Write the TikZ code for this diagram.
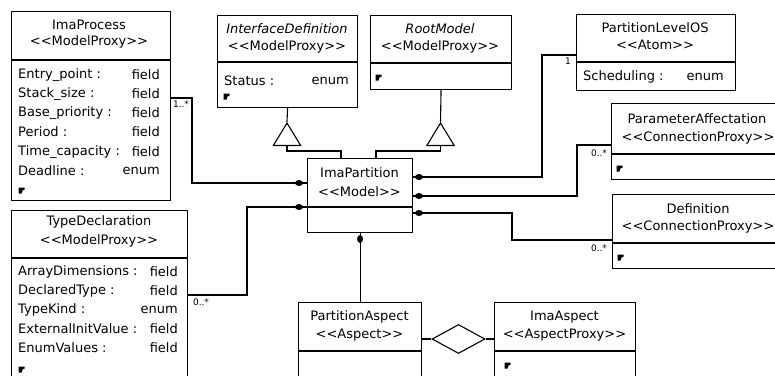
\documentclass[tikz,border=0pt]{standalone}
\usepackage{fontspec}
\setmainfont{DejaVu Sans}
\usetikzlibrary{arrows.meta,shapes.geometric}
\newcommand\umlbox[6]{%
  \node[umlframe, minimum width=#4-#2, minimum height=#5-#3] (#1) at (#2,#3) {};
  \draw[umlline] (#1.west |- 0,#6) -- (#1.east |- 0,#6);}
\newcommand\umlattr[6]{%
  \node[txt, anchor=west] (#1l) at (#2,#4) {#5};
  \node[txt, anchor=east] (#1r) at (#3,#4) {#6};}
\newcommand\umlmark[2]{%
  \fill (#1-2.5,#2-2.5) -- ++(6,0) -- ++(0,2) -- ++(-2,1) -- ++(-1,3) -- ++(-3,0) -- cycle;}
\begin{document}
\begin{tikzpicture}[x=1pt,y=-1pt,
  umlframe/.style={draw, line width=1.1pt, inner sep=0pt, anchor=north west},
  umlline/.style={line width=1.1pt},
  txt/.style={inner sep=0pt, font=\fontsize{13}{15}\selectfont},
  ital/.style={txt, font=\fontsize{13}{15}\selectfont\itshape},
  mult/.style={inner sep=0pt, font=\fontsize{9}{10}\selectfont},
  conn/.style={line width=1.1pt},
  gen/.style={line width=1.1pt, -{Triangle[open, length=24pt, width=29pt, line width=1.1pt]}}]
\useasboundingbox (0,0) rectangle (775,375);
\fill[white] (0,0) rectangle (775,375);
\clip (0,0) rectangle (775,375);

% ImaProcess
\umlbox{ip}{11}{11}{170}{200}{60}
\node[txt] (ipT) at (89,25) {ImaProcess};
\node[txt] (ipS) at (89,42) {<{}<ModelProxy>{}>};
\umlattr{ipa}{18}{160}{75}{Entry\_point :}{field}
\umlattr{ipb}{18}{160}{94}{Stack\_size :}{field}
\umlattr{ipc}{18}{160}{113}{Base\_priority :}{field}
\umlattr{ipd}{18}{160}{132}{Period :}{field}
\umlattr{ipe}{18}{160}{152}{Time\_capacity :}{field}
\umlattr{ipf}{18}{160}{171}{Deadline :}{enum}
\umlmark{21}{190}

% TypeDeclaration
\umlbox{td}{11}{210}{187}{400}{258}
\node[txt] (tdT) at (99,222) {TypeDeclaration};
\node[txt] (tdS) at (99,241) {<{}<ModelProxy>{}>};
\umlattr{tda}{18}{178}{272}{ArrayDimensions :}{field}
\umlattr{tdb}{18}{178}{291}{DeclaredType :}{field}
\umlattr{tdc}{18}{178}{310}{TypeKind :}{enum}
\umlattr{tdd}{18}{178}{329}{ExternalInitValue :}{field}
\umlattr{tde}{18}{178}{348}{EnumValues :}{field}
\umlmark{21}{369}

% InterfaceDefinition
\umlbox{ifd}{217}{15}{357}{107}{62}
\node[ital] (ifdT) at (287,29) {InterfaceDefinition};
\node[txt] (ifdS) at (287,47) {<{}<ModelProxy>{}>};
\umlattr{ifda}{224}{349}{81}{Status :}{enum}
\umlmark{226}{96}

% RootModel
\umlbox{rm}{370}{15}{511}{89}{63}
\node[ital] (rmT) at (440,29) {RootModel};
\node[txt] (rmS) at (440,47) {<{}<ModelProxy>{}>};
\umlmark{378}{77}

% PartitionLevelOS
\umlbox{plo}{576}{14}{735}{90}{62}
\node[txt] (ploT) at (655,28) {PartitionLevelOS};
\node[txt] (ploS) at (655,45) {<{}<Atom>{}>};
\umlattr{ploa}{583}{724}{77}{Scheduling :}{enum}

% ParameterAffectation
\umlbox{paff}{611}{103}{800}{179}{154}
\node[txt] (paffT) at (697,119) {ParameterAffectation};
\node[txt] (paffS) at (698,138) {<{}<ConnectionProxy>{}>};
\umlmark{619}{168}

% Definition
\umlbox{def}{612}{194}{800}{268}{243}
\node[txt] (defT) at (698,209) {Definition};
\node[txt] (defS) at (698,227) {<{}<ConnectionProxy>{}>};
\umlmark{620}{257}

% ImaPartition
\umlbox{part}{307}{158}{412}{232}{207}
\node[txt] (partT) at (359.5,173) {ImaPartition};
\node[txt] (partS) at (359.5,192) {<{}<Model>{}>};

% PartitionAspect
\umlbox{pasp}{298}{302}{421}{400}{351}
\node[txt] (paspT) at (359.5,317) {PartitionAspect};
\node[txt] (paspS) at (359.5,335) {<{}<Aspect>{}>};

% ImaAspect
\umlbox{ia}{494}{302}{635}{400}{351}
\node[txt] (iaT) at (564.5,317) {ImaAspect};
\node[txt] (iaS) at (564.5,335) {<{}<AspectProxy>{}>};
\umlmark{507}{365}

% diamond
\node[diamond, draw, line width=1.1pt, inner sep=0pt, minimum width=53pt, minimum height=29pt] (dia) at (458.5,339) {};
\draw[conn] (pasp.east |- dia.west) -- (dia.west);
\draw[conn] (dia.east) -- (ia.west |- dia.east);

% generalizations
\coordinate (apexA) at (287,122);
\coordinate (apexB) at (440.5,122);
\draw[conn] (ifd.south) -- (apexA);
\draw[conn] (rm.south) -- (apexB);
\draw[gen] (part.north -| 341,0) |- (287,151) -- (apexA);
\draw[gen] (part.north -| 376,0) |- (440.5,151) -- (apexB);

% compositions
\draw[conn] (ip.east |- 0,98) -| (192,183) -- (part.west |- 0,183);
\fill (299,183) ellipse (4 and 3);
\node[mult] (m1) at (181,104) {1..*};

\draw[conn] (td.east |- 0,295) -| (247,207) -- (part.west |- 0,207);
\fill (299,207) ellipse (4 and 3);
\node[mult] (m2) at (201,302) {0..*};

\draw[conn] (plo.west |- 0,55) -| (542,177) -- (part.east |- 0,177);
\fill (419,177) ellipse (4 and 3);
\node[mult] (m3) at (568,61) {1};

\draw[conn] (paff.west |- 0,145) -| (577,196) -- (part.east |- 0,196);
\fill (419,196) ellipse (4 and 3);
\node[mult] (m4) at (599,153) {0..*};

\draw[conn] (def.west |- 0,240) -| (512,213) -- (part.east |- 0,213);
\fill (419,213) ellipse (4 and 3);
\node[mult] (m5) at (599,248) {0..*};

\draw[conn] (part.south) -- (pasp.north -| part.south);
\fill (part.south |- 0,239) ellipse (3 and 4);
\end{tikzpicture}
\end{document}
